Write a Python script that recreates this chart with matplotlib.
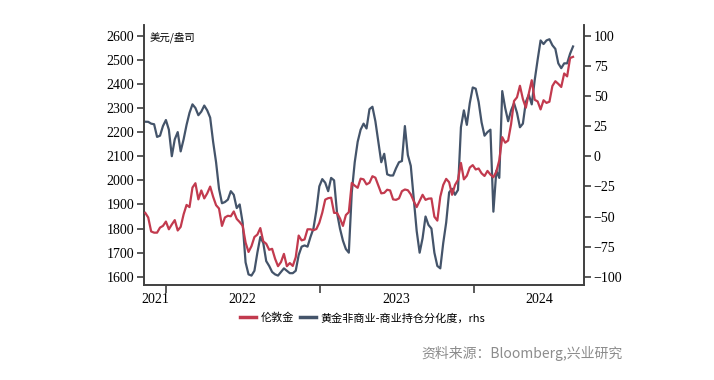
import matplotlib
matplotlib.use("Agg")
import matplotlib.pyplot as plt
import pandas as pd

# Weekly dates
start_date = "2021-11-12"
n_weeks = 146

# London gold (USD/oz), weekly
gold = [
    1865, 1846, 1788, 1783, 1783, 1804, 1811, 1829,
    1797, 1817, 1835, 1792, 1807, 1859, 1898, 1889, 1970, 1988, 1921, 1958,
    1925, 1946, 1974, 1932, 1897, 1883, 1811, 1846, 1853, 1851, 1871, 1840,
    1827, 1812, 1742, 1703, 1727, 1765, 1775, 1802, 1747, 1737, 1712, 1716,
    1675, 1644, 1661, 1695, 1644, 1657, 1645, 1681, 1771, 1751, 1755, 1797,
    1797, 1793, 1798, 1824,
    1866, 1920, 1926, 1928, 1865, 1865, 1842, 1811, 1856, 1868, 1989, 1978,
    1969, 2007, 2004, 1983, 1990, 2017, 2011, 1978, 1946, 1948, 1961, 1958,
    1921, 1919, 1925, 1955, 1962, 1959, 1942, 1914, 1889, 1915, 1940, 1919,
    1924, 1925, 1849, 1833, 1932, 1981, 2006, 1992, 1940, 1981, 2002, 2072,
    2004, 2019, 2053, 2063,
    2045, 2049, 2029, 2018, 2039, 2024, 2013, 2036, 2083, 2179, 2156, 2165,
    2233, 2329, 2344, 2392, 2337, 2301, 2360, 2415, 2334, 2327, 2294, 2332,
    2321, 2326, 2391, 2411, 2400, 2387, 2443, 2431, 2507, 2512,
]

# Gold non-commercial minus commercial positioning divergence (rhs)
diverg = [
    28.6, 28.5, 27, 26.5, 16, 17, 25, 30, 22, 0,
    14, 20, 4, 14, 26, 36, 43, 40, 34, 37,
    42, 38, 32, 12, -5, -27, -39, -38, -36, -29,
    -32, -43, -40, -55, -88, -98, -99, -95, -80, -67,
    -72, -87, -91, -96, -98, -99, -96, -93, -95, -97,
    -97, -95, -82, -75, -74, -75, -67, -60, -45, -25,
    -19, -22, -29, -18, -20, -47, -60, -70, -77, -80,
    -30, -5, 12, 22, 27, 23, 39, 41, 29, 12,
    -5, 2, -15, -16, -16, -10, -5, -4, 25, 1,
    -8, -35, -62, -80, -68, -50, -57, -60, -80, -91,
    -93, -72, -55, -30, -27, -32, -28, 24, 38, 26,
    44, 57, 56, 45, 28, 17, 20, 22, -46, -12,
    -18, 54, 40, 29, 38, 44, 36, 24, 27, 45,
    51, 43, 63, 80, 96, 93, 96, 97, 92, 89,
    77, 73, 77, 77, 85, 91,
]

left_ticks = [1600, 1700, 1800, 1900, 2000, 2100, 2200, 2300, 2400, 2500, 2600]
right_ticks = [-100, -75, -50, -25, 0, 25, 50, 75, 100]
year_labels = ["2021", "2022", "2023", "2024"]

dates = pd.date_range(start_date, periods=n_weeks, freq="7D")

plt.rcParams['font.family'] = ['Liberation Serif', 'Noto Sans CJK SC', 'DejaVu Sans']
cjk = ['Noto Sans CJK SC', 'DejaVu Sans']

fig = plt.figure(figsize=(7.14, 3.80), dpi=100)
ax = fig.add_axes([144/714, 1-285/380, (584-144)/714, (285-25)/380])
ax2 = ax.twinx()

red = '#C23A4E'
blue = '#44546A'
spine_c = '#404040'

l1, = ax.plot(dates, gold, color=red, lw=1.6, zorder=3)
l2, = ax2.plot(dates, diverg, color=blue, lw=1.6, zorder=2)
ax.set_zorder(ax2.get_zorder() + 1)
ax.patch.set_visible(False)

ax.set_ylim(1566, 2644)
ax2.set_ylim((1566-2100)/5, (2644-2100)/5)
ax.set_yticks(left_ticks)
ax2.set_yticks(right_ticks)
ax.set_xlim(pd.Timestamp("2021-11-09"), pd.Timestamp("2024-09-18"))

ax.set_xticks([pd.Timestamp(f"{y}-01-01") for y in (2022, 2023, 2024)])
ax.set_xticklabels([])
label_pos = [pd.Timestamp("2021-12-06"), pd.Timestamp("2022-07-01"),
             pd.Timestamp("2023-07-01"), pd.Timestamp("2024-06-03")]
ax.set_xticks(label_pos, minor=True)
ax.set_xticklabels(year_labels, minor=True)
ax.tick_params(axis='x', which='minor', length=0, pad=6, labelsize=10)
ax.tick_params(axis='x', which='major', length=6, width=1.2, color=spine_c)

for a in (ax, ax2):
    a.spines['top'].set_visible(False)
    for s in ('left', 'right', 'bottom'):
        a.spines[s].set_color(spine_c)
        a.spines[s].set_linewidth(1.2)
ax.tick_params(axis='y', length=5, width=1.2, color=spine_c, labelsize=10, pad=2)
ax2.tick_params(axis='y', length=5, width=1.2, color=spine_c, labelsize=10, pad=2)

ax.text(0.012, 0.975, "美元/盎司", transform=ax.transAxes, ha='left', va='top',
        fontsize=7.5, family=cjk)

leg = fig.legend([l1, l2], ["伦敦金", "黄金非商业-商业持仓分化度，rhs"],
                 loc='center', bbox_to_anchor=(0.508, 1-318/380), ncol=2,
                 frameon=False, handlelength=1.4, handletextpad=0.4,
                 columnspacing=0.6, prop={'family': cjk, 'size': 8})
for h in leg.get_lines():
    h.set_linewidth(2.5)

fig.text(623/714, 1-353/380, "资料来源：Bloomberg,兴业研究", ha='right', va='center',
         fontsize=10, color='#8c8c8c', family=cjk)

fig.savefig("out.png", dpi=100)
